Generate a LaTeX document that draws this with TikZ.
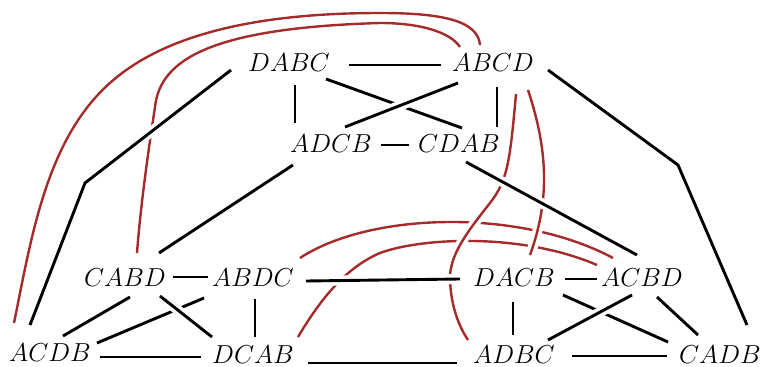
\RequirePackage{fix-cm}
\documentclass[tikz,border=0pt]{standalone}
\usetikzlibrary{calc}
\definecolor{redc}{RGB}{165,42,42}
\begin{document}
\begin{tikzpicture}[x=1pt,y=-1pt,
  lbl/.style={inner sep=0pt,font=\fontsize{26}{30}\selectfont},
  blk/.style={line width=2.9pt,draw=black},
  rd/.style={line width=2.4pt,draw=redc},
  over/.style={preaction={draw=white,line width=10pt}}]
\useasboundingbox (0,0) rectangle (761,367);
% nodes
\node[lbl] (DABC) at (289,63) {$DABC$};
\node[lbl] (ABCD) at (493,63) {$ABCD$};
\node[lbl] (ADCB) at (331,144) {$ADCB$};
\node[lbl] (CDAB) at (459,144) {$CDAB$};
\node[lbl] (CABD) at (125,278) {$CABD$};
\node[lbl] (ABDC) at (253,278) {$ABDC$};
\node[lbl] (DACB) at (514,278) {$DACB$};
\node[lbl] (ACBD) at (642,278) {$ACBD$};
\node[lbl] (ACDB) at (50,353) {$ACDB$};
\node[lbl] (DCAB) at (253,354.5) {$DCAB$};
\node[lbl] (ADBC) at (514,354.5) {$ADBC$};
\node[lbl] (CADB) at (720,354.5) {$CADB$};
\coordinate (bendL) at (85,183);
\coordinate (bendR) at (678,165);
% red edges (under)
\draw[rd] ($(ABDC)+(47,-20)$) .. controls (370,212) and (520,208) .. ($(ACBD)+(-29,-20)$);
\draw[rd] ($(DCAB)+(45,-17.5)$) .. controls (320,300) and (345,268) .. (380,253)
  .. controls (420,238) and (520,232) .. ($(ACBD)+(-45,-13)$);
\draw[rd] ($(ACDB)+(-36,-30)$) .. controls (32,235) and (47,133) .. (117,77)
  .. controls (179,27) and (280,13) .. (380,13)
  .. controls (440,13) and (478,20) .. ($(ABCD)+(-13,-18)$);
\draw[rd] ($(CABD)+(12,-25)$) .. controls (141,200) and (150,140) .. (155,107)
  .. controls (160,60) and (210,28) .. (380,23)
  .. controls (420,23) and (450,32) .. ($(ABCD)+(-33,-16)$);
% red edges (over)
\draw[rd,over] ($(ABCD)+(23,31)$) .. controls (510,160) and (508,180) .. (490,203)
  .. controls (468,231) and (449,255) .. (450,280)
  .. controls (451,305) and (458,325) .. ($(ADBC)+(-46,-14.5)$);
\draw[rd,over] ($(ABCD)+(35,27)$) .. controls (548,150) and (550,200) .. ($(DACB)+(16,-23)$);
% black edges drawn underneath at crossings
\draw[blk,over] ($(DABC)+(37,16)$) -- ($(CDAB)+(3,-16)$);
\draw[blk,over] ($(ABDC)+(-49,20)$) -- ($(ACDB)+(47,-10)$);
\draw[blk,over] ($(DACB)+(49,17)$) -- ($(CADB)+(-52,-12.5)$);
% other black edges
\draw[blk,over] ($(DABC)+(60,2)$) -- ($(ABCD)+(-52,2)$);
\draw[blk,over] ($(DABC)+(6,22)$) -- ($(ADCB)+(-36,-21)$);
\draw[blk,over] ($(ABCD)+(-35,20)$) -- ($(ADCB)+(14,-17)$);
\draw[blk,over] ($(ABCD)+(4,24)$) -- ($(CDAB)+(38,-17)$);
\draw[blk,over] ($(ADCB)+(50,1)$) -- ($(CDAB)+(-50,1)$);
\draw[blk,over] ($(ADCB)+(-38,21)$) -- ($(CABD)+(34,-25)$);
\draw[blk,over] ($(CDAB)+(7,18)$) -- ($(ACBD)+(-5,-23)$);
\draw[blk,over] ($(DABC)+(-58,7)$) -- (bendL) -- ($(ACDB)+(-20,-28)$);
\draw[blk,over] ($(ABCD)+(55,7)$) -- (bendR) -- ($(CADB)+(27,-29.5)$);
\draw[blk,over] ($(CABD)+(48,-1)$) -- ($(ABDC)+(-45,-1)$);
\draw[blk,over] ($(CABD)+(5,19)$) -- ($(ACDB)+(13,-17)$);
\draw[blk,over] ($(CABD)+(35,18)$) -- ($(DCAB)+(-41,-17.5)$);
\draw[blk,over] ($(ABDC)+(2,21)$) -- ($(DCAB)+(2,-17.5)$);
\draw[blk,over] ($(ACDB)+(50,4)$) -- ($(DCAB)+(-52,2.5)$);
\draw[blk,over] ($(ABDC)+(53,3)$) -- ($(DACB)+(-54,1)$);
\draw[blk,over] ($(DCAB)+(55,8.5)$) -- ($(ADBC)+(-57,8.5)$);
\draw[blk,over] ($(DACB)+(51,1)$) -- ($(ACBD)+(-45,1)$);
\draw[blk,over] ($(DACB)+(-1,24)$) -- ($(ADBC)+(-1,-19.5)$);
\draw[blk,over] ($(ACBD)+(-10,17)$) -- ($(ADBC)+(34,-14.5)$);
\draw[blk,over] ($(ACBD)+(15,19)$) -- ($(CADB)+(-22,-19.5)$);
\draw[blk,over] ($(ADBC)+(58,1.5)$) -- ($(CADB)+(-53,1.5)$);
\end{tikzpicture}
\end{document}
